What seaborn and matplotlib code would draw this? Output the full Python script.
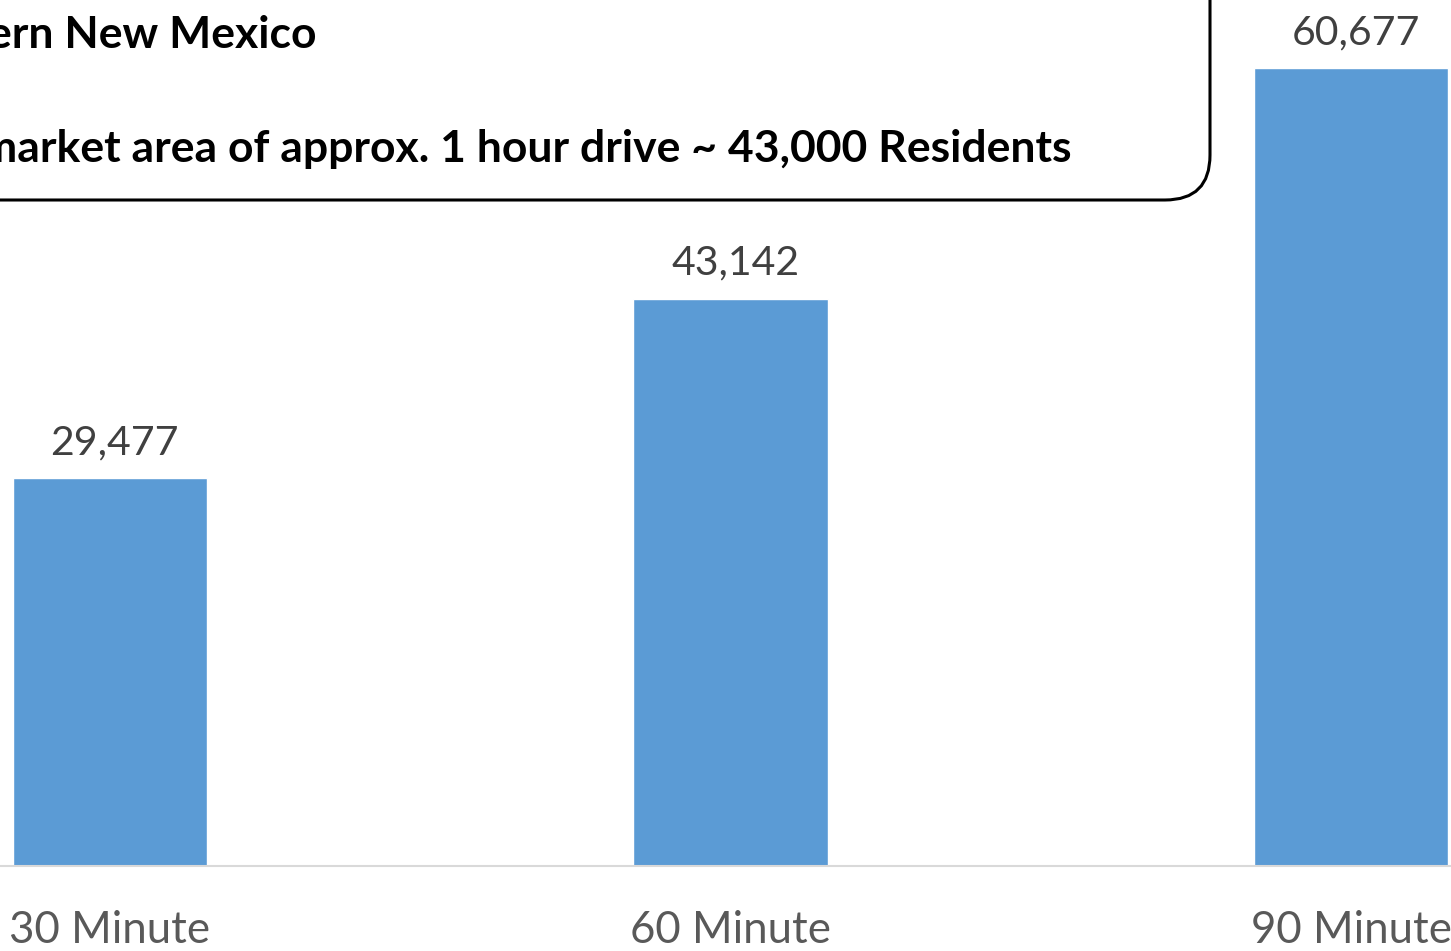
import matplotlib
matplotlib.use("Agg")
import matplotlib.pyplot as plt
import seaborn as sns
import pandas as pd
from matplotlib.patches import FancyBboxPatch

categories = ["30 Minute", "60 Minute", "90 Minute"]
residents = [29477, 43142, 60677]
note_lines = ["ern New Mexico",
              "market area of approx. 1 hour drive ~ 43,000 Residents"]

sns.set_theme(style="white")
plt.rcParams["font.family"] = ["Lato", "DejaVu Sans"]

W, H = 1451, 951
fig = plt.figure(figsize=(W / 100, H / 100), dpi=100)
ax = fig.add_axes([0, (H - 866) / H, 1, 866 / H])

df = pd.DataFrame({"drive": categories, "residents": residents})
sns.barplot(data=df, x="drive", y="residents", color="#5b9bd5",
            saturation=1, width=0.313, ax=ax)

ax.set_xlim(-110 / 620.5, (W - 110) / 620.5)
ax.set_ylim(0, 866 / 0.013152)
ax.set_xlabel("")
ax.set_ylabel("")
ax.set_yticks([])
for s in ["top", "left", "right"]:
    ax.spines[s].set_visible(False)
ax.spines["bottom"].set_color("#d9d9d9")
ax.spines["bottom"].set_linewidth(1.5)
ax.tick_params(axis="x", length=0, pad=32, labelsize=31.5, labelcolor="#595959")

for i, v in enumerate(residents):
    ax.annotate(f"{v:,}", (i, v), xytext=(3.5, 12), textcoords="offset points",
                ha="center", va="bottom", fontsize=29.5, color="#404040")

# rounded callout box, its upper-left part running past the canvas
bx0, bx1 = -600, 1210
by_top, by_bot = -100, 200
rad = 45
box = FancyBboxPatch((bx0 + rad, H - by_bot + rad), (bx1 - bx0) - 2 * rad,
                     (by_bot - by_top) - 2 * rad,
                     boxstyle=f"round,pad={rad}", transform=None,
                     facecolor="white", edgecolor="black", linewidth=2.2)
fig.patches.append(box)

fig.text(316 / W, 1 - 35 / H, note_lines[0], ha="right", va="center",
         fontsize=32, fontweight="bold", color="black")
fig.text(1071 / W, 1 - 149 / H, note_lines[1], ha="right", va="center",
         fontsize=32, fontweight="bold", color="black")

fig.savefig("out.png", dpi=100)
